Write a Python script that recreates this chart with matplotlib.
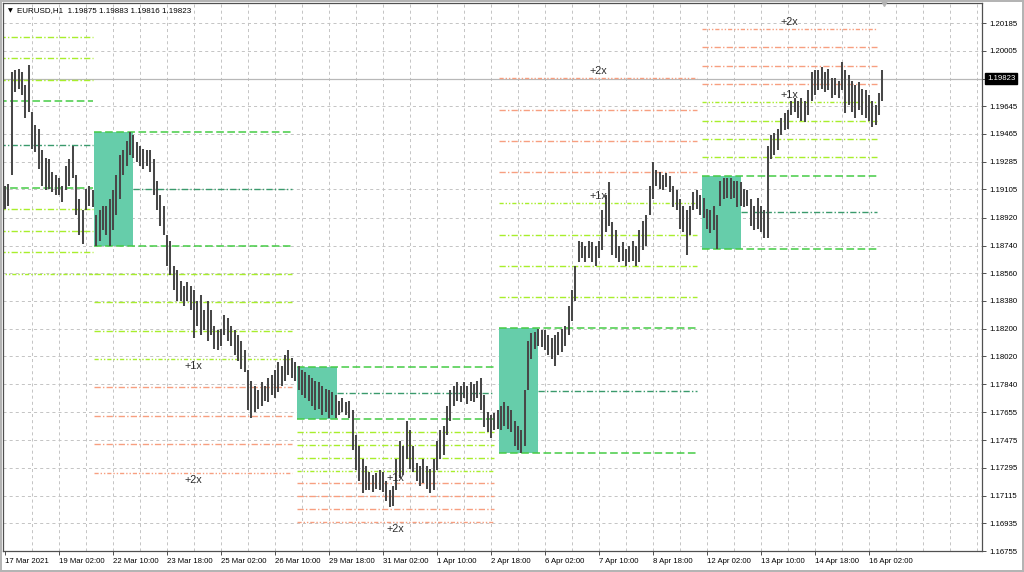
import matplotlib.pyplot as plt
import numpy as np

plt.rcParams['font.family'] = ['Liberation Sans', 'DejaVu Sans']
plt.rcParams['lines.scale_dashes'] = False

symbol_info = 'EURUSD,H1  1.19875 1.19883 1.19816 1.19823'
last_price = 1.19823

# H1 bars, one entry every 2 hours (high / low)
highs = [
    1.1913, 1.1914, 1.1987, 1.1988, 1.1989, 1.1987, 1.1978, 1.1991, 1.1961, 1.1952,
    1.1950, 1.1936, 1.1931, 1.1930, 1.1922, 1.1920, 1.1918, 1.1913, 1.1926, 1.1930,
    1.1939, 1.1920, 1.1904, 1.1897, 1.1911, 1.1913, 1.1910, 1.1894, 1.1897, 1.1900,
    1.1900, 1.1904, 1.1910, 1.1920, 1.1933, 1.1936, 1.1942, 1.1948, 1.1946, 1.1941,
    1.1939, 1.1937, 1.1936, 1.1936, 1.1930, 1.1916, 1.1907, 1.1900, 1.1881, 1.1877,
    1.1861, 1.1858, 1.1851, 1.1848, 1.1850, 1.1848, 1.1845, 1.1838, 1.1842, 1.1832,
    1.1838, 1.1832, 1.1822, 1.1819, 1.1820, 1.1829, 1.1827, 1.1822, 1.1819, 1.1816,
    1.1812, 1.1806, 1.1793, 1.1786, 1.1783, 1.1780, 1.1785, 1.1783, 1.1788, 1.1790,
    1.1793, 1.1798, 1.1796, 1.1803, 1.1806, 1.1801, 1.1798, 1.1796, 1.1793, 1.1792,
    1.1790, 1.1788, 1.1786, 1.1785, 1.1783, 1.1781, 1.1780, 1.1779, 1.1777, 1.1773,
    1.1775, 1.1772, 1.1773, 1.1767, 1.1751, 1.1744, 1.1735, 1.1731, 1.1727, 1.1725,
    1.1726, 1.1728, 1.1727, 1.1721, 1.1715, 1.1718, 1.1735, 1.1747, 1.1744, 1.1760,
    1.1754, 1.1744, 1.1733, 1.1731, 1.1735, 1.1731, 1.1729, 1.1735, 1.1747, 1.1754,
    1.1757, 1.1770, 1.1780, 1.1783, 1.1785, 1.1783, 1.1785, 1.1783, 1.1785, 1.1784,
    1.1786, 1.1788, 1.1777, 1.1766, 1.1764, 1.1765, 1.1767, 1.1770, 1.1772, 1.1770,
    1.1767, 1.1760, 1.1757, 1.1754, 1.1780, 1.1812, 1.1817, 1.1818, 1.1820, 1.1819,
    1.1819, 1.1816, 1.1814, 1.1816, 1.1818, 1.1820, 1.1822, 1.1835, 1.1845, 1.1861,
    1.1877, 1.1876, 1.1874, 1.1877, 1.1876, 1.1874, 1.1877, 1.1897, 1.1907, 1.1915,
    1.1889, 1.1884, 1.1874, 1.1876, 1.1872, 1.1874, 1.1877, 1.1874, 1.1884, 1.1890,
    1.1894, 1.1913, 1.1928, 1.1923, 1.1922, 1.1920, 1.1921, 1.1919, 1.1913, 1.1910,
    1.1904, 1.1900, 1.1897, 1.1900, 1.1909, 1.1910, 1.1907, 1.1905, 1.1898, 1.1897,
    1.1900, 1.1894, 1.1916, 1.1918, 1.1918, 1.1918, 1.1916, 1.1916, 1.1915, 1.1911,
    1.1910, 1.1904, 1.1900, 1.1905, 1.1900, 1.1897, 1.1939, 1.1946, 1.1947, 1.1950,
    1.1957, 1.1960, 1.1962, 1.1968, 1.1970, 1.1968, 1.1970, 1.1968, 1.1975, 1.1987,
    1.1988, 1.1988, 1.1990, 1.1987, 1.1989, 1.1983, 1.1983, 1.1981, 1.1993, 1.1988,
    1.1985, 1.1981, 1.1978, 1.1980, 1.1976, 1.1975, 1.1972, 1.1968, 1.1965, 1.1973,
    1.1988,
]
lows = [
    1.1898, 1.1900, 1.1920, 1.1974, 1.1976, 1.1972, 1.1957, 1.1961, 1.1937, 1.1935,
    1.1924, 1.1913, 1.1910, 1.1911, 1.1909, 1.1907, 1.1907, 1.1902, 1.1910, 1.1913,
    1.1918, 1.1894, 1.1881, 1.1875, 1.1897, 1.1900, 1.1899, 1.1874, 1.1877, 1.1884,
    1.1881, 1.1874, 1.1884, 1.1894, 1.1904, 1.1920, 1.1926, 1.1933, 1.1931, 1.1928,
    1.1926, 1.1924, 1.1926, 1.1922, 1.1907, 1.1897, 1.1887, 1.1881, 1.1861, 1.1855,
    1.1845, 1.1838, 1.1838, 1.1835, 1.1838, 1.1832, 1.1814, 1.1822, 1.1816, 1.1819,
    1.1812, 1.1816, 1.1807, 1.1806, 1.1809, 1.1816, 1.1812, 1.1809, 1.1803, 1.1799,
    1.1794, 1.1792, 1.1767, 1.1762, 1.1766, 1.1768, 1.1770, 1.1773, 1.1772, 1.1777,
    1.1775, 1.1779, 1.1783, 1.1786, 1.1790, 1.1788, 1.1786, 1.1780, 1.1777, 1.1775,
    1.1773, 1.1770, 1.1767, 1.1768, 1.1764, 1.1766, 1.1762, 1.1764, 1.1762, 1.1764,
    1.1766, 1.1764, 1.1762, 1.1741, 1.1728, 1.1721, 1.1713, 1.1715, 1.1715, 1.1714,
    1.1716, 1.1715, 1.1714, 1.1708, 1.1704, 1.1705, 1.1715, 1.1723, 1.1725, 1.1735,
    1.1729, 1.1727, 1.1721, 1.1718, 1.1720, 1.1716, 1.1713, 1.1715, 1.1728, 1.1735,
    1.1738, 1.1751, 1.1760, 1.1770, 1.1773, 1.1772, 1.1775, 1.1771, 1.1773, 1.1772,
    1.1775, 1.1767, 1.1756, 1.1753, 1.1749, 1.1754, 1.1755, 1.1754, 1.1757, 1.1755,
    1.1753, 1.1744, 1.1741, 1.1739, 1.1744, 1.1780, 1.1800, 1.1807, 1.1809, 1.1808,
    1.1806, 1.1803, 1.1800, 1.1796, 1.1803, 1.1805, 1.1809, 1.1816, 1.1825, 1.1838,
    1.1863, 1.1866, 1.1863, 1.1866, 1.1863, 1.1861, 1.1866, 1.1871, 1.1883, 1.1887,
    1.1868, 1.1866, 1.1863, 1.1864, 1.1861, 1.1863, 1.1864, 1.1861, 1.1863, 1.1871,
    1.1874, 1.1894, 1.1904, 1.1913, 1.1911, 1.1910, 1.1912, 1.1909, 1.1899, 1.1897,
    1.1885, 1.1883, 1.1868, 1.1881, 1.1897, 1.1898, 1.1894, 1.1892, 1.1885, 1.1882,
    1.1884, 1.1872, 1.1900, 1.1904, 1.1905, 1.1904, 1.1905, 1.1899, 1.1900, 1.1899,
    1.1900, 1.1887, 1.1884, 1.1885, 1.1883, 1.1879, 1.1879, 1.1930, 1.1933, 1.1936,
    1.1946, 1.1949, 1.1950, 1.1959, 1.1961, 1.1957, 1.1955, 1.1954, 1.1959, 1.1968,
    1.1972, 1.1975, 1.1976, 1.1974, 1.1975, 1.1970, 1.1972, 1.1970, 1.1975, 1.1960,
    1.1965, 1.1961, 1.1957, 1.1962, 1.1959, 1.1957, 1.1955, 1.1951, 1.1952, 1.1959,
    1.1968,
]

date_labels = ['17 Mar 2021', '19 Mar 02:00', '22 Mar 10:00', '23 Mar 18:00',
               '25 Mar 02:00', '26 Mar 10:00', '29 Mar 18:00', '31 Mar 02:00',
               '1 Apr 10:00', '2 Apr 18:00', '6 Apr 02:00', '7 Apr 10:00',
               '8 Apr 18:00', '12 Apr 02:00', '13 Apr 10:00', '14 Apr 18:00',
               '16 Apr 02:00']
price_ticks = [1.20185, 1.20005, 1.19825, 1.19645, 1.19465, 1.19285, 1.19105,
               1.18920, 1.18740, 1.18560, 1.18380, 1.18200, 1.18020, 1.17840,
               1.17655, 1.17475, 1.17295, 1.17115, 1.16935, 1.16755]

# consolidation boxes (bar index / price) and their projection levels
box_left = [-65, 53, 173, 293, 413]
box_right = [-42, 76, 197, 316, 436]
box_top = [1.19676, 1.19478, 1.17948, 1.18202, 1.19194]
box_bottom = [1.19117, 1.18740, 1.17613, 1.17390, 1.18717]
level_end = [52, 170, 290, 410, 517]
levels_up = [3, 0, 0, 8, 8]
levels_down = [4, 8, 8, 0, 0]

fig = plt.figure(figsize=(10.24, 5.72), dpi=100)
fig.patch.set_edgecolor('#b4b4b4')
fig.patch.set_linewidth(1.5)
ax = fig.add_axes([3 / 1024, 21 / 572, 979 / 1024, 548 / 572])
ax.set_xlim(-1.2, 579)
ax.set_ylim(1.16756, 1.20316)

# grid
grid_dash = (0, (2.2, 2.2))
for gx in range(16, 580, 16):
    ax.axvline(gx, color='#c4c4c4', lw=0.7, ls=grid_dash, zorder=0.5)
for gy in price_ticks:
    ax.axhline(gy, color='#c4c4c4', lw=0.7, ls=grid_dash, zorder=0.5)
ax.axhline(last_price, color='#b8b8b8', lw=0.9, zorder=0.6)

edge_ls = (0, (5.5, 2.5))
ext_ls = (0, (4.5, 1.6, 1.0, 1.6))
end_ls = (0, (3.0, 1.4, 1.0, 1.4, 1.0, 1.4))

for i in range(len(box_left)):
    l, r, t, b, e = box_left[i], box_right[i], box_top[i], box_bottom[i], level_end[i]
    h = t - b
    ax.fill_between([l, r], b, t, color='mediumaquamarine', lw=0, zorder=1)
    ax.hlines([t, b], l, e, color='#45cc45', lw=1.1, ls=edge_ls, zorder=2)
    ax.hlines((t + b) / 2, r, e, color='#3a9a6c', lw=1.0, ls=ext_ls, zorder=2)
    for sign, count in ((1, levels_up[i]), (-1, levels_down[i])):
        base = t if sign > 0 else b
        for n in range(1, count + 1):
            lvl = base + sign * n * h / 4
            col = '#a8ee2c' if n <= 4 else '#f79f80'
            ls = end_ls if n % 4 == 0 else ext_ls
            ax.hlines(lvl, l, e, color=col, lw=1.0, ls=ls, zorder=2)
            if n % 4 == 0:
                ax.annotate('+%dx' % (n // 4), xy=((l + e) / 2, lvl),
                            xytext=(0, 7 * sign), textcoords='offset pixels',
                            ha='center', va='center', fontsize=7.8,
                            color='#2e2e2e', zorder=4)

# price bars
x = np.arange(len(highs)) * 2
ax.vlines(x, lows, highs, color='#484848', lw=1.45, zorder=3)

# axes styling
for s in ax.spines.values():
    s.set_color('#505050')
    s.set_linewidth(0.9)
ax.yaxis.tick_right()
ax.set_yticks(price_ticks)
ax.set_yticklabels(['' if p == 1.19825 else '%.5f' % p for p in price_ticks])
ax.set_xticks(np.arange(len(date_labels)) * 32)
ax.set_xticklabels(date_labels)
for lab in ax.get_xticklabels():
    lab.set_ha('left')
ax.tick_params(axis='both', labelsize=5.6, length=3, width=0.7,
               color='#505050', pad=2)

ax.annotate('%.5f' % last_price, xy=(1, last_price),
            xycoords=('axes fraction', 'data'), xytext=(5, 0),
            textcoords='offset pixels', ha='left', va='center',
            fontsize=5.6, color='white', annotation_clip=False,
            bbox=dict(boxstyle='square,pad=0.25', fc='black', ec='black'))

# chart shift marker
ax.plot([521], [1.0], marker='v', ms=5, color='#b4b4b4',
        transform=ax.get_xaxis_transform(), clip_on=False, zorder=5)

fig.text(8 / 1024, 1 - 11 / 572, '\u25bc', fontsize=4.5, va='center',
         family='DejaVu Sans')
fig.text(17 / 1024, 1 - 11 / 572, symbol_info, fontsize=5.8, va='center')

fig.savefig('out.png', dpi=100)
